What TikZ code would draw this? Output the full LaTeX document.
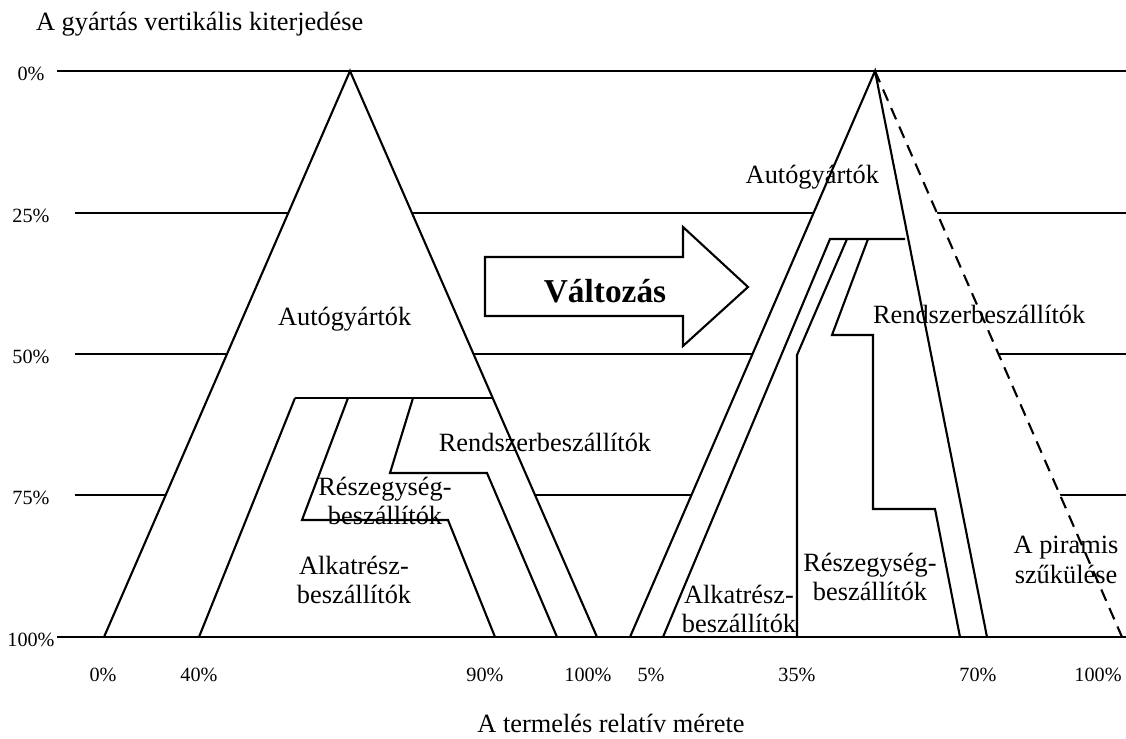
\documentclass[tikz,border=0pt]{standalone}
\usepackage{fontspec}
\setmainfont{Liberation Serif}

\tikzset{
	txt/.style={font=\fontsize{15}{17}\selectfont, inner sep=0pt, align=center},
	pct/.style={font=\fontsize{11.5}{13}\selectfont, inner sep=0pt},
	big/.style={font=\bfseries\fontsize{19}{22}\selectfont, inner sep=0pt},
}

\begin{document}
\begin{tikzpicture}[x=0.02cm, y=-0.02cm, line width=1.2pt]
	%%%%% START %%%%%
	\useasboundingbox (0,0) rectangle (1126,738);
	
	% levels, hidden by the pyramids
	\foreach \yy in {213,354,495}
		\draw (75,\yy) -- (1126,\yy);
	\fill[white] (350,71) -- (104,637) -- (597,637) -- cycle;
	\fill[white] (875,71) -- (630,637) -- (1122,637) -- cycle;
	\draw (57,71) -- (1126,71);
	\draw (57,637) -- (1126,637);
	
	% left pyramid
	\draw (104,637) -- (350,71) -- (597,637);
	\draw (295,398) -- (493,398);
	\draw (295,398) -- (199,637);
	\draw (348,398) -- (302,520) -- (448,520) -- (495,637);
	\draw (413,398) -- (390,473) -- (487,473) -- (557,637);
	
	% right pyramid
	\draw (630,637) -- (875,71) -- (987,637);
	\draw[dashed, dash pattern=on 7pt off 4.5pt] (875,71) -- (1122,637);
	\draw (663,637) -- (830,239) -- (905,239);
	\draw (847,239) -- (797,355) -- (797,637);
	\draw (868,239) -- (832,335) -- (873,335) -- (873,509) -- (935,509) -- (960,637);
	
	% arrow
	\draw[fill=white] (485,257) -- (683,257) -- (683,227) -- (748,287) -- (683,346) -- (683,316) -- (485,316) -- cycle;
	\node[big, anchor=base] (valt) at (605,302) {Változás};
	
	% texts
	\node[txt, anchor=base west] (vert) at (35,30) {A gyártás vertikális kiterjedése};
	\node[txt, anchor=base] (meret) at (611,732) {A termelés relatív mérete};
	
	\node[txt, anchor=base west] (autoL) at (277,325) {Autógyártók};
	\node[txt, anchor=base] (rendL) at (545,451) {Rendszerbeszállítók};
	\node[txt] (reszL) at (385,501) {Részegység-\\beszállítók};
	\node[txt] (alkL) at (354,580) {Alkatrész-\\beszállítók};
	
	\node[txt, anchor=base east] (autoR) at (880,183) {Autógyártók};
	\node[txt, anchor=base west] (rendR) at (872,323) {Rendszerbeszállítók};
	\node[txt] (reszR) at (870,577) {Részegység-\\beszállítók};
	\node[txt] (alkR) at (739,609) {Alkatrész-\\beszállítók};
	\node[txt] (szuk) at (1066,560) {A piramis\\szűkülése};
	
	% scales
	\foreach \yy/\pp in {71/0,213/25,354/50,495/75,637/100}
		\node[pct] (y\pp) at (31,\yy+3) {\pp\%};
	\foreach \xx/\pp/\nm in {103/0/a,199/40/b,485/90/c,588/100/d,651/5/e,797/35/f,978/70/g,1098/100/h}
		\node[pct] (x\nm) at (\xx,675) {\pp\%};
	
	%%%%% END %%%%%
\end{tikzpicture}
\end{document}
